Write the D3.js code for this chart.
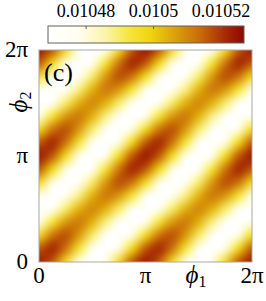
<!DOCTYPE html>
<html lang="en">
<head>
<meta charset="utf-8">
<title>phase map (c)</title>
<script src="https://d3js.org/d3.v7.min.js"></script>
<style>
  body { margin: 0; background: #fff; }
  svg text { font-family: "Liberation Serif", "DejaVu Serif", serif; }
</style>
</head>
<body>
<script>
const w = 266, h = 301;

// grid nodes, in units of pi (0 .. 2pi, step pi/8)
const phiSteps = [0, 0.125, 0.25, 0.375, 0.5, 0.625, 0.75, 0.875, 1,
                  1.125, 1.25, 1.375, 1.5, 1.625, 1.75, 1.875, 2];

// axis ticks
const phiTicks = [0, 1, 2];            // in units of pi
const phiTickLabels = ["0", "π", "2π"];

// colorbar
const cbDomain = [0.0104687, 0.0105268];
const cbTicks = [0.01048, 0.0105, 0.01052];
const cbTickLabels = ["0.01048", "0.0105", "0.01052"];
const cmapStops = [0, 0.15, 0.3, 0.42, 0.52, 0.64, 0.78, 0.9, 1];
const cmapColors = ["#ffffff", "#fffef2", "#fbf4a6", "#f5e53a", "#f0d510", "#dca40c", "#c86a0a", "#a82c04", "#8e0600"];

// values, rows = phi2 from 0 to 2pi, columns = phi1 from 0 to 2pi
const zRows = [
  [0.0105240,0.0105161,0.0104970,0.0104779,0.0104700,0.0104779,0.0104970,0.0105161,0.0105240,0.0105161,0.0104970,0.0104779,0.0104700,0.0104779,0.0104970,0.0105161,0.0105240],
  [0.0105161,0.0105220,0.0105126,0.0104935,0.0104759,0.0104700,0.0104794,0.0104985,0.0105161,0.0105220,0.0105126,0.0104935,0.0104759,0.0104700,0.0104794,0.0104985,0.0105161],
  [0.0104970,0.0105126,0.0105170,0.0105076,0.0104900,0.0104744,0.0104700,0.0104794,0.0104970,0.0105126,0.0105170,0.0105076,0.0104900,0.0104744,0.0104700,0.0104794,0.0104970],
  [0.0104779,0.0104935,0.0105076,0.0105120,0.0105041,0.0104885,0.0104744,0.0104700,0.0104779,0.0104935,0.0105076,0.0105120,0.0105041,0.0104885,0.0104744,0.0104700,0.0104779],
  [0.0104700,0.0104759,0.0104900,0.0105041,0.0105100,0.0105041,0.0104900,0.0104759,0.0104700,0.0104759,0.0104900,0.0105041,0.0105100,0.0105041,0.0104900,0.0104759,0.0104700],
  [0.0104779,0.0104700,0.0104744,0.0104885,0.0105041,0.0105120,0.0105076,0.0104935,0.0104779,0.0104700,0.0104744,0.0104885,0.0105041,0.0105120,0.0105076,0.0104935,0.0104779],
  [0.0104970,0.0104794,0.0104700,0.0104744,0.0104900,0.0105076,0.0105170,0.0105126,0.0104970,0.0104794,0.0104700,0.0104744,0.0104900,0.0105076,0.0105170,0.0105126,0.0104970],
  [0.0105161,0.0104985,0.0104794,0.0104700,0.0104759,0.0104935,0.0105126,0.0105220,0.0105161,0.0104985,0.0104794,0.0104700,0.0104759,0.0104935,0.0105126,0.0105220,0.0105161],
  [0.0105240,0.0105161,0.0104970,0.0104779,0.0104700,0.0104779,0.0104970,0.0105161,0.0105240,0.0105161,0.0104970,0.0104779,0.0104700,0.0104779,0.0104970,0.0105161,0.0105240],
  [0.0105161,0.0105220,0.0105126,0.0104935,0.0104759,0.0104700,0.0104794,0.0104985,0.0105161,0.0105220,0.0105126,0.0104935,0.0104759,0.0104700,0.0104794,0.0104985,0.0105161],
  [0.0104970,0.0105126,0.0105170,0.0105076,0.0104900,0.0104744,0.0104700,0.0104794,0.0104970,0.0105126,0.0105170,0.0105076,0.0104900,0.0104744,0.0104700,0.0104794,0.0104970],
  [0.0104779,0.0104935,0.0105076,0.0105120,0.0105041,0.0104885,0.0104744,0.0104700,0.0104779,0.0104935,0.0105076,0.0105120,0.0105041,0.0104885,0.0104744,0.0104700,0.0104779],
  [0.0104700,0.0104759,0.0104900,0.0105041,0.0105100,0.0105041,0.0104900,0.0104759,0.0104700,0.0104759,0.0104900,0.0105041,0.0105100,0.0105041,0.0104900,0.0104759,0.0104700],
  [0.0104779,0.0104700,0.0104744,0.0104885,0.0105041,0.0105120,0.0105076,0.0104935,0.0104779,0.0104700,0.0104744,0.0104885,0.0105041,0.0105120,0.0105076,0.0104935,0.0104779],
  [0.0104970,0.0104794,0.0104700,0.0104744,0.0104900,0.0105076,0.0105170,0.0105126,0.0104970,0.0104794,0.0104700,0.0104744,0.0104900,0.0105076,0.0105170,0.0105126,0.0104970],
  [0.0105161,0.0104985,0.0104794,0.0104700,0.0104759,0.0104935,0.0105126,0.0105220,0.0105161,0.0104985,0.0104794,0.0104700,0.0104759,0.0104935,0.0105126,0.0105220,0.0105161],
  [0.0105240,0.0105161,0.0104970,0.0104779,0.0104700,0.0104779,0.0104970,0.0105161,0.0105240,0.0105161,0.0104970,0.0104779,0.0104700,0.0104779,0.0104970,0.0105161,0.0105240]
];

const svg = d3.select("body").append("svg")
  .attr("width", w)
  .attr("height", h);

// scales
const x = d3.scaleLinear().domain([0, 2 * Math.PI]).range([39, 252]);
const y = d3.scaleLinear().domain([0, 2 * Math.PI]).range([262, 50]);
const color = d3.scaleLinear()
  .domain(cmapStops.map(t => cbDomain[0] + t * (cbDomain[1] - cbDomain[0])))
  .range(cmapColors)
  .clamp(true);

// heat map: one pixel per grid node, then scaled up smoothly into the plot box
const n = phiSteps.length;
const small = document.createElement("canvas");
small.width = n; small.height = n;
const sctx = small.getContext("2d");
const img = sctx.createImageData(n, n);
zRows.forEach((row, j) => {
  row.forEach((v, i) => {
    const c = d3.rgb(color(v));
    const k = ((n - 1 - j) * n + i) * 4;
    img.data[k] = c.r; img.data[k + 1] = c.g; img.data[k + 2] = c.b; img.data[k + 3] = 255;
  });
});
sctx.putImageData(img, 0, 0);

const x0 = x(0), y0 = y(2 * Math.PI);
const pw = x(2 * Math.PI) - x0, ph = y(0) - y0;
const big = document.createElement("canvas");
big.width = pw; big.height = ph;
const bctx = big.getContext("2d");
bctx.imageSmoothingEnabled = true;
bctx.imageSmoothingQuality = "high";
const cw = (x(phiSteps[1] * Math.PI) - x0), ch = (y(0) - y(phiSteps[1] * Math.PI));
bctx.drawImage(small, -cw / 2, -ch / 2, cw * n, ch * n);

svg.append("image")
  .attr("x", x0).attr("y", y0)
  .attr("width", pw).attr("height", ph)
  .attr("preserveAspectRatio", "none")
  .attr("href", big.toDataURL());

// plot frame
svg.append("rect")
  .attr("x", x0).attr("y", y0)
  .attr("width", pw).attr("height", ph)
  .attr("fill", "none")
  .attr("stroke", "#a8a8a8")
  .attr("stroke-width", 1);

// panel label
svg.append("text")
  .attr("x", 44).attr("y", 81)
  .style("font-size", "26px")
  .text("(c)");

// tick labels
svg.selectAll("text.xtick")
  .data(phiTicks)
  .enter().append("text")
  .attr("class", "xtick")
  .attr("x", d => x(d * Math.PI))
  .attr("y", 283)
  .attr("text-anchor", "middle")
  .style("font-size", "23px")
  .text((d, i) => phiTickLabels[i]);

svg.selectAll("text.ytick")
  .data(phiTicks)
  .enter().append("text")
  .attr("class", "ytick")
  .attr("x", 28)
  .attr("y", d => y(d * Math.PI) + 7)
  .attr("text-anchor", "end")
  .style("font-size", "23px")
  .text((d, i) => phiTickLabels[i]);

// axis labels
const xl = svg.append("text")
  .attr("x", 196).attr("y", 283)
  .attr("text-anchor", "middle")
  .style("font-size", "25px");
xl.append("tspan").style("font-style", "italic").text("ϕ");
xl.append("tspan").attr("dy", 4).style("font-size", "16px").text("1");

const yl = svg.append("text")
  .attr("transform", "translate(27,102) rotate(-90)")
  .attr("text-anchor", "middle")
  .style("font-size", "25px");
yl.append("tspan").style("font-style", "italic").text("ϕ");
yl.append("tspan").attr("dy", 4).style("font-size", "16px").text("2");

// colorbar
const cb = { x0: 48, x1: 244, y0: 26, y1: 43 };
const cbx = d3.scaleLinear().domain(cbDomain).range([cb.x0, cb.x1]);

const grad = svg.append("defs").append("linearGradient")
  .attr("id", "cbgrad")
  .attr("x1", "0%").attr("x2", "100%")
  .attr("y1", "0%").attr("y2", "0%");
grad.selectAll("stop")
  .data(d3.range(0, 1.0001, 0.02))
  .enter().append("stop")
  .attr("offset", d => (d * 100) + "%")
  .attr("stop-color", d => color(cbDomain[0] + d * (cbDomain[1] - cbDomain[0])));

svg.append("rect")
  .attr("x", cb.x0).attr("y", cb.y0)
  .attr("width", cb.x1 - cb.x0).attr("height", cb.y1 - cb.y0)
  .attr("fill", "url(#cbgrad)")
  .attr("stroke", "#606060")
  .attr("stroke-width", 1);

svg.selectAll("line.cbtick")
  .data(cbTicks)
  .enter().append("line")
  .attr("class", "cbtick")
  .attr("x1", d => cbx(d)).attr("x2", d => cbx(d))
  .attr("y1", cb.y0).attr("y2", cb.y0 + 3)
  .attr("stroke", "#606060");

svg.selectAll("text.cblabel")
  .data(cbTicks)
  .enter().append("text")
  .attr("class", "cblabel")
  .attr("x", d => cbx(d))
  .attr("y", 17)
  .attr("text-anchor", "middle")
  .style("font-size", "18px")
  .text((d, i) => cbTickLabels[i]);
</script>
</body>
</html>
